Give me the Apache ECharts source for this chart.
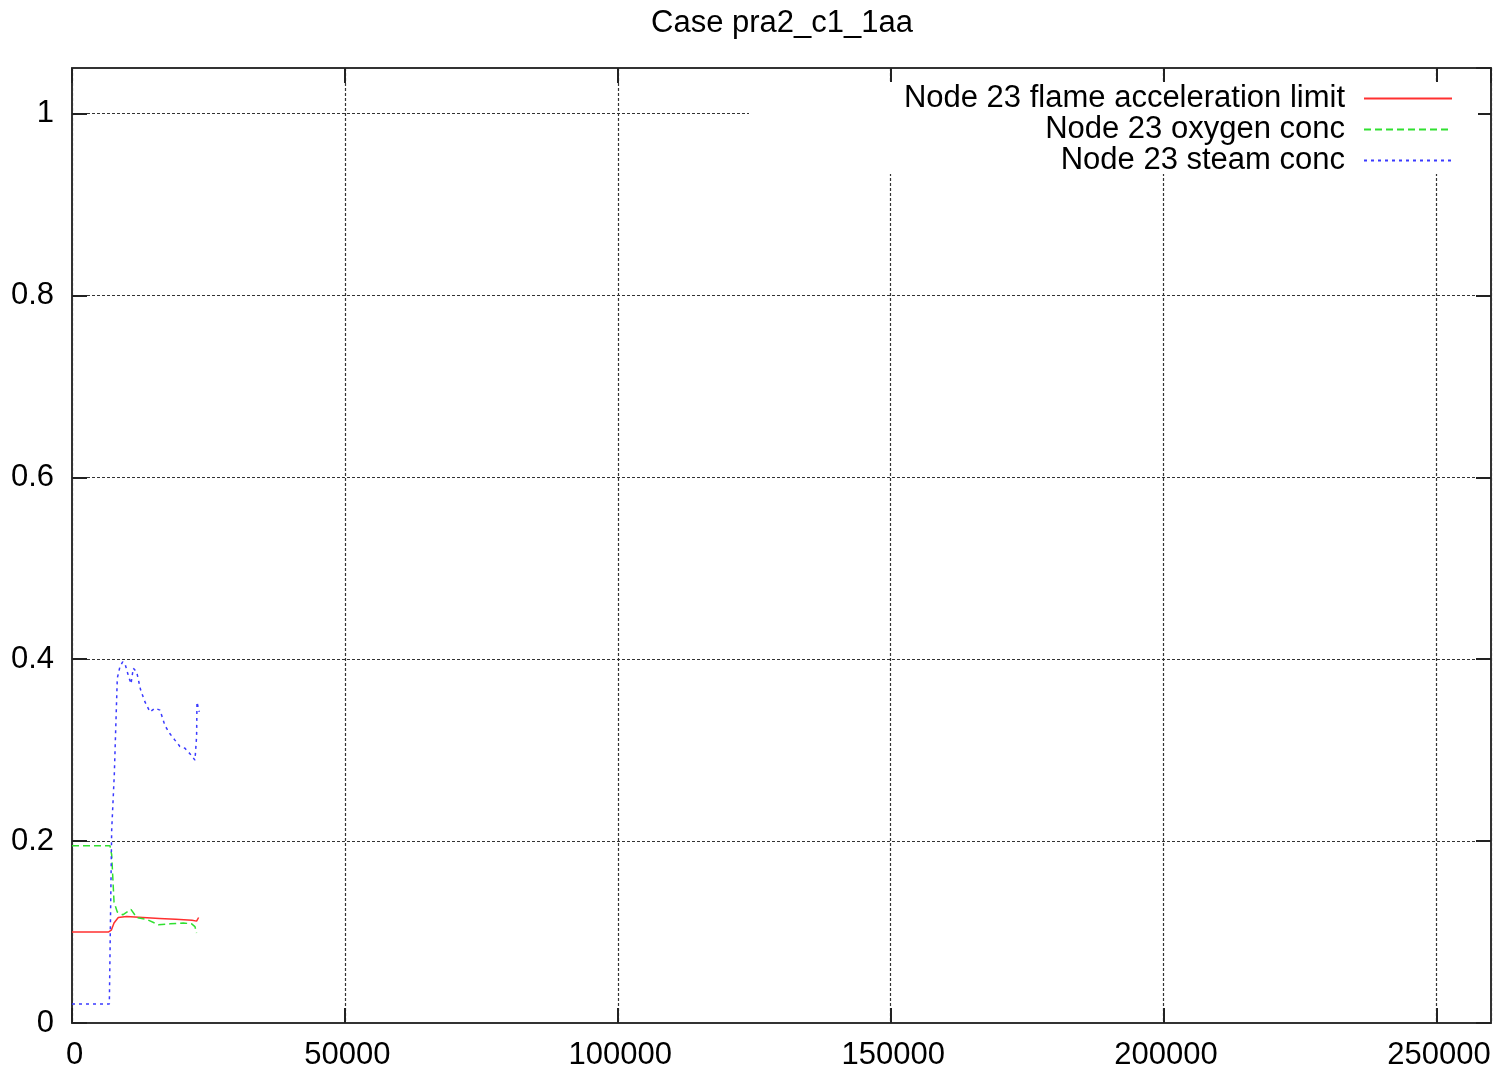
<!DOCTYPE html>
<html>
<head>
<meta charset="utf-8">
<script src="https://cdn.jsdelivr.net/npm/echarts@6/dist/echarts.min.js"></script>
<style>
html,body{margin:0;padding:0;background:#fff;}
#chart{width:1499px;height:1073px;}
</style>
</head>
<body>
<div id="chart"></div>
<script>
// ---- data ----
const titleText = 'Case pra2_c1_1aa';
const seriesNames = ['Node 23 flame acceleration limit', 'Node 23 oxygen conc', 'Node 23 steam conc'];

const flameTime = [0, 6650, 7200, 7700, 8480, 10000, 13000, 16000, 19000, 22000, 22830, 23200];
const flameVal  = [0.100, 0.100, 0.102, 0.110, 0.116, 0.117, 0.116, 0.115, 0.114, 0.113, 0.112, 0.116];

const oxygenTime = [0, 6960, 7270, 7700, 8300, 9300, 10800, 11850, 13680, 15810, 17950, 20390, 21920, 22530, 22830];
const oxygenVal  = [0.195, 0.195, 0.185, 0.133, 0.122, 0.119, 0.125, 0.116, 0.114, 0.108, 0.109, 0.110, 0.109, 0.106, 0.099];

const steamTime = [0, 6840, 7270, 7750, 8060, 8300, 8790, 9280, 9710, 10320, 10810, 11230, 11850, 12580, 13370, 14290, 15200, 16120, 17030, 17950, 18860, 19780, 20700, 21610, 22530, 22830, 22900, 23310];
const steamVal  = [0.021, 0.021, 0.212, 0.273, 0.333, 0.379, 0.392, 0.397, 0.395, 0.382, 0.373, 0.390, 0.386, 0.366, 0.353, 0.342, 0.346, 0.344, 0.327, 0.318, 0.311, 0.304, 0.302, 0.296, 0.289, 0.315, 0.353, 0.342];

const xTicks = [0, 50000, 100000, 150000, 200000, 250000];
const yTicks = [0, 0.2, 0.4, 0.6, 0.8, 1];

// ---- chart ----
const zip = (a, b) => a.map((v, i) => [v, b[i]]);
const FONT = 'Liberation Sans, Arial, sans-serif';
const FS = 31;
const chart = echarts.init(document.getElementById('chart'), null, {renderer: 'canvas'});

const gridLine = {show: true, lineStyle: {color: '#333', width: 1.2, type: [3, 2]}};
const axisLine = {show: true, onZero: false, lineStyle: {color: '#333', width: 2}};
const tick = {show: true, inside: true, length: 15, lineStyle: {color: '#222', width: 2}};

const colors = ['#ff3030', '#30e030', '#3a3aff'];
const lineTypes = ['solid', [7, 4], [3, 4]];

function legendFor(i, centerY) {
  return {
    data: [seriesNames[i]],
    orient: 'vertical',
    right: 46,
    top: centerY - 17,
    align: 'right',
    itemWidth: 88,
    itemHeight: 14,
    padding: 0,
    itemStyle: {opacity: 0},
    selectedMode: false,
    textStyle: {fontFamily: FONT, fontSize: FS, color: '#000', padding: [0, 14, 0, 0]}
  };
}

const option = {
  backgroundColor: '#fff',
  animation: false,
  title: {
    text: titleText,
    left: 651,
    top: 8,
    padding: 0,
    textStyle: {fontFamily: FONT, fontSize: FS, fontWeight: 'normal', color: '#000'}
  },
  legend: [legendFor(0, 100), legendFor(1, 131), legendFor(2, 162)],
  grid: {left: 72, right: 8, top: 68, bottom: 50, containLabel: false},
  xAxis: [{
    type: 'value', min: 0, max: 260000, interval: 50000,
    axisLine: axisLine, axisTick: tick, splitLine: gridLine,
    axisLabel: {
      show: true, margin: 17, fontFamily: FONT, fontSize: FS, color: '#000',
      showMaxLabel: false, padding: [0, 0, 0, 5],
      formatter: v => xTicks.includes(v) ? String(v) : ''
    }
  }, {
    type: 'value', position: 'top', min: 0, max: 260000, interval: 50000,
    axisLine: axisLine, axisTick: tick, splitLine: {show: false}, axisLabel: {show: false}
  }],
  yAxis: [{
    type: 'value', min: 0, max: 1.05, interval: 0.2,
    axisLine: axisLine, axisTick: tick, splitLine: gridLine,
    axisLabel: {
      show: true, margin: 18, fontFamily: FONT, fontSize: FS, color: '#000',
      showMaxLabel: false,
      formatter: v => {
        const t = yTicks.find(k => Math.abs(k - v) < 1e-9);
        return t === undefined ? '' : String(t);
      }
    }
  }, {
    type: 'value', position: 'right', min: 0, max: 1.05, interval: 0.2,
    axisLine: axisLine, axisTick: tick, splitLine: {show: false}, axisLabel: {show: false}
  }],
  graphic: [{
    type: 'rect', z: 1, silent: true,
    shape: {x: 749, y: 82, width: 729, height: 92},
    style: {fill: '#fff'}
  }],
  series: [
    {name: seriesNames[0], data: zip(flameTime, flameVal)},
    {name: seriesNames[1], data: zip(oxygenTime, oxygenVal)},
    {name: seriesNames[2], data: zip(steamTime, steamVal)}
  ].map((s, i) => Object.assign(s, {
    type: 'line', symbol: 'none', showSymbol: false, z: 3,
    xAxisIndex: 0, yAxisIndex: 0,
    color: colors[i],
    lineStyle: {color: colors[i], width: 1.5, type: lineTypes[i]}
  }))
};
chart.setOption(option);
</script>
</body>
</html>
